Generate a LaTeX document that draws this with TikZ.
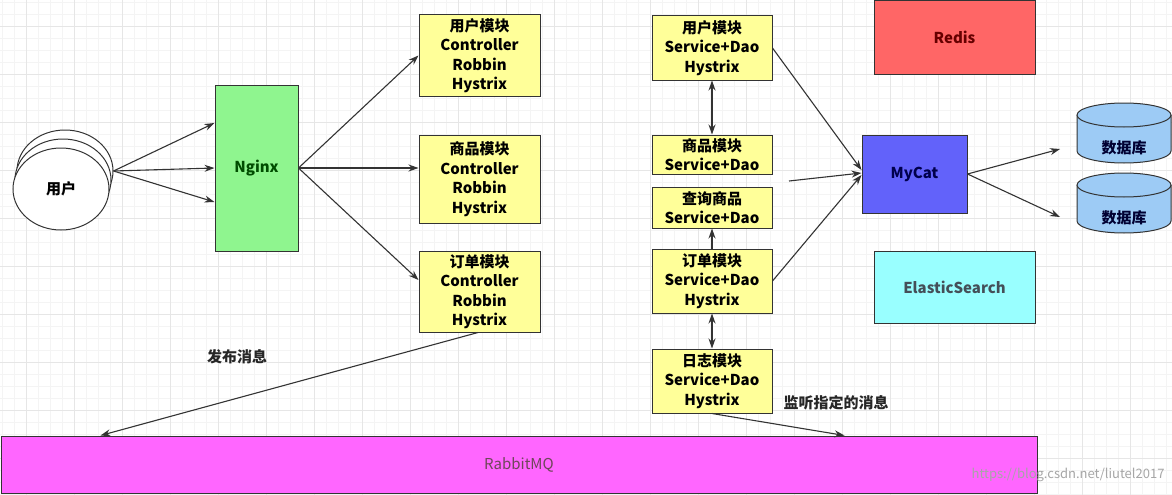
\documentclass[tikz,border=0pt]{standalone}
\usepackage{fontspec}
\setmainfont{Noto Sans CJK SC}
\usetikzlibrary{arrows.meta,calc,shapes.geometric}
\definecolor{boxyellow}{HTML}{FFFF99}
\definecolor{ngreen}{HTML}{8FF58F}
\definecolor{rred}{HTML}{FF6666}
\definecolor{mblue}{HTML}{6262FA}
\definecolor{ecyan}{HTML}{99FFFF}
\definecolor{rmag}{HTML}{FF66FF}
\definecolor{dbblue}{HTML}{9DCBF5}
\definecolor{linec}{HTML}{333333}
\definecolor{gridminor}{HTML}{F4F4F4}
\definecolor{gridmajor}{HTML}{E6E6E6}
\tikzset{
  txt/.style={font=\bfseries\fontsize{15}{19.5}\selectfont},
  box/.style={draw=linec, line width=1pt, rectangle, align=center, inner sep=0pt, txt},
  ybox/.style={box, fill=boxyellow, minimum width=120pt},
  conn/.style={draw=linec, line width=1.1pt, -{Stealth[length=10pt,width=7pt]}},
  biconn/.style={draw=linec, line width=1.1pt, {Stealth[length=10pt,width=7pt]}-{Stealth[length=10pt,width=7pt]}},
  lbl/.style={txt, text=black!85},
  usr/.style={draw=linec, line width=1pt, fill=white, ellipse, minimum width=96pt, minimum height=82pt, inner sep=0pt},
}
\begin{document}
\begin{tikzpicture}[x=1pt,y=-1pt]
\useasboundingbox (0,0) rectangle (1172,495);
\fill[white] (0,0) rectangle (1172,495);
% grid
\foreach \i in {2,14,...,1172} \draw[gridminor, line width=0.5pt] (\i,0) -- (\i,495);
\foreach \j in {2,14,...,495} \draw[gridminor, line width=0.5pt] (0,\j) -- (1172,\j);
\foreach \i in {26,74,...,1172} \draw[gridmajor, line width=0.6pt] (\i,0) -- (\i,495);
\foreach \j in {26,74,...,495} \draw[gridmajor, line width=0.6pt] (0,\j) -- (1172,\j);

% user
\node[usr] (user3) at (65,171) {};
\node[usr] (user2) at (63,180) {};
\node[usr, txt] (user) at (61,189) {用户};

% nginx
\node[box, fill=ngreen, minimum width=83pt, minimum height=166pt, text=green!30!black] (nginx) at (256.5,168) {Nginx};

% left modules
\node[ybox, minimum width=121pt, minimum height=81pt] (L1) at (479.5,55.5) {用户模块\\Controller\\Robbin\\Hystrix};
\node[ybox, minimum width=121pt, minimum height=88pt] (L2) at (479.5,179) {商品模块\\Controller\\Robbin\\Hystrix};
\node[ybox, minimum width=121pt, minimum height=81pt] (L3) at (479.5,291.5) {订单模块\\Controller\\Robbin\\Hystrix};

% right modules
\node[ybox, minimum height=64pt] (R1) at (712,48) {用户模块\\Service+Dao\\Hystrix};
\node[ybox, minimum height=39pt] (R2) at (712,154.5) {商品模块\\Service+Dao};
\node[ybox, minimum height=41pt] (R3) at (712,207.5) {查询商品\\Service+Dao};
\node[ybox, minimum height=64pt] (R4) at (712,281) {订单模块\\Service+Dao\\Hystrix};
\node[ybox, minimum height=64pt] (R5) at (712,381) {日志模块\\Service+Dao\\Hystrix};

% infra
\node[box, fill=rred, minimum width=161pt, minimum height=73pt, text=red!40!black] (redis) at (954.5,37.5) {Redis};
\node[box, fill=mblue, minimum width=105pt, minimum height=78pt, text=blue!30!black] (mycat) at (914.5,174) {MyCat};
\node[box, fill=ecyan, minimum width=161pt, minimum height=72pt, text=cyan!25!black] (es) at (954.5,287) {ElasticSearch};
\node[box, fill=rmag, minimum width=1036pt, minimum height=57pt, text=magenta!35!black, font=\fontsize{15}{19.5}\selectfont] (rabbit) at (519,464.5) {RabbitMQ};

% databases
\foreach \t in {103,173} {
  \begin{scope}[shift={(0,\t)}]
    \fill[dbblue] (1077,12) -- (1077,48) arc[start angle=180, end angle=360, x radius=47pt, y radius=12pt] -- (1171,12) -- cycle;
    \draw[linec, line width=1pt] (1077,12) -- (1077,48) arc[start angle=180, end angle=360, x radius=47pt, y radius=12pt] -- (1171,12);
    \draw[linec, line width=1pt, fill=dbblue] (1124,12) ellipse [x radius=47pt, y radius=12pt];
  \end{scope}
}
\node[txt, text=blue!20!black] (d1) at (1124,148) {数据库};
\node[txt, text=blue!20!black] (d2) at (1124,218) {数据库};
\coordinate (db1in) at (1060,149);
\coordinate (db2in) at (1060,217);
\coordinate (freein) at (789,181);

% connectors
\draw[conn] (user3.east) -- ([yshift=45pt]nginx.west);
\draw[conn] (user3.east) -- (nginx.west);
\draw[conn] (user3.east) -- ([yshift=-34pt]nginx.west);
\draw[conn] (nginx.east) -- (L1.west);
\draw[conn] (nginx.east) -- (nginx.east -| L2.west);
\draw[conn] (nginx.east) -- ([yshift=11.5pt]L3.west);

\draw[biconn] (R1.south) -- (R2.north);
\draw[conn] (R4.north) -- (R3.south);
\draw[biconn] (R4.south) -- (R5.north);

\draw[conn] (R1.east) -- ([yshift=4pt]mycat.west);
\draw[conn] (freein) -- ([yshift=1pt]mycat.west);
\draw[conn] (R4.east) -- ([yshift=-1pt]mycat.west);
\draw[conn] (mycat.east) -- (db1in);
\draw[conn] (mycat.east) -- (db2in);

\draw[conn] ([xshift=-1.5pt]L3.south) -- ([xshift=100pt]rabbit.north west);
\draw[conn] (R5.south) -- ([xshift=844pt]rabbit.north west);

% labels
\node[lbl] (pub) at (237,357) {发布消息};
\node[lbl] (sub) at (836,403) {监听指定的消息};
\node[text=black!35, font=\fontsize{13}{15}\selectfont, anchor=east] (wm) at (1168,475) {https://blog.csdn.net/liutel2017};
\end{tikzpicture}
\end{document}
